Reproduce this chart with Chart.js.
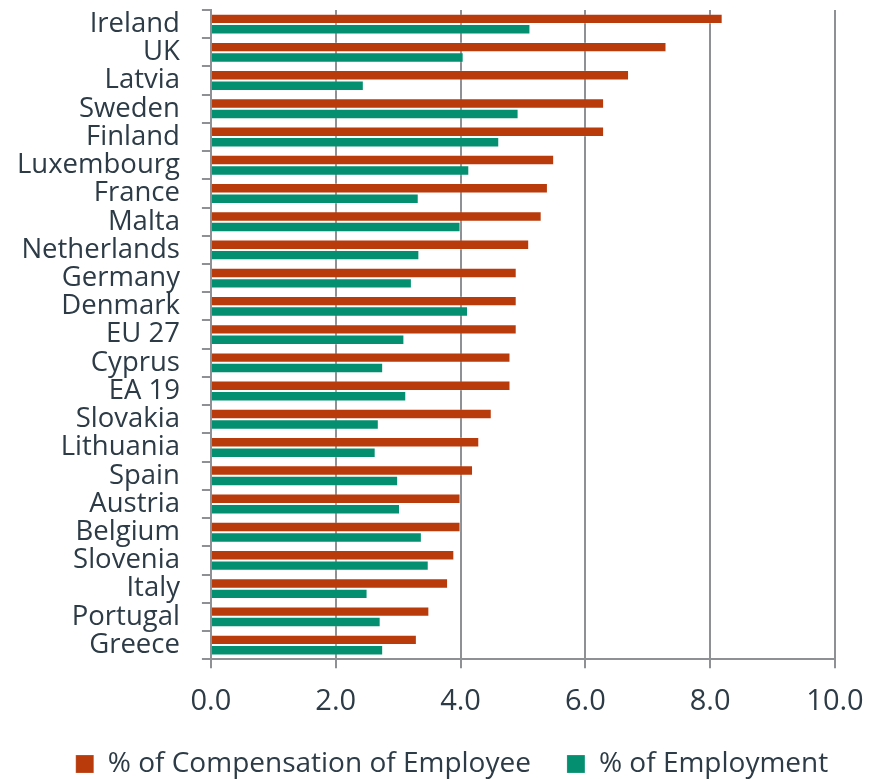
<!DOCTYPE html>
<html>
<head>
<meta charset="utf-8">
<script src="https://cdn.jsdelivr.net/npm/chart.js@4.4.0/dist/chart.umd.min.js"></script>
<style>
	html, body { margin: 0; padding: 0; background: #fff; }
	#wrap { width: 881px; height: 779px; }
</style>
</head>
<body>
<div id="wrap"><canvas id="barChart" width="881" height="779"></canvas></div>
<script>
	// 국가별 비율 (%)
	const countries = ['Ireland', 'UK', 'Latvia', 'Sweden', 'Finland', 'Luxembourg', 'France', 'Malta',
		'Netherlands', 'Germany', 'Denmark', 'EU 27', 'Cyprus', 'EA 19', 'Slovakia', 'Lithuania',
		'Spain', 'Austria', 'Belgium', 'Slovenia', 'Italy', 'Portugal', 'Greece'];
	const compensation = [8.2, 7.3, 6.7, 6.3, 6.3, 5.5, 5.4, 5.3, 5.1, 4.9, 4.9, 4.9, 4.8, 4.8, 4.5, 4.3,
		4.2, 4.0, 4.0, 3.9, 3.8, 3.5, 3.3];
	const employment = [5.12, 4.05, 2.45, 4.93, 4.62, 4.14, 3.33, 4.0, 3.34, 3.22, 4.12, 3.1, 2.76, 3.13,
		2.69, 2.64, 3.0, 3.03, 3.38, 3.49, 2.51, 2.72, 2.76];
	const seriesNames = ['% of Compensation of Employee', '% of Employment'];

	const textColor = '#2c3b46';
	const lineColor = '#8e9093';
	const fontFamily = "'Open Sans', sans-serif";

	// 범례를 오른쪽으로 조금 옮김
	const legendShift = {
		id: 'legendShift',
		afterLayout(chart) {
			if (chart.legend) {
				chart.legend.left += 37;
				chart.legend.right += 37;
			}
		}
	};

	let setChartConfig = () => {
		return {
			type: 'bar',
			data: {
				labels: countries,
				datasets: [{
					label: seriesNames[0],
					data: compensation,
					backgroundColor: '#b93b0b',
					borderColor: 'rgba(255, 255, 255, 0.2)',
					borderWidth: 1,
					categoryPercentage: 0.74,
					barPercentage: 1.0
				}, {
					label: seriesNames[1],
					data: employment,
					backgroundColor: '#038f70',
					borderColor: 'rgba(255, 255, 255, 0.2)',
					borderWidth: 1,
					categoryPercentage: 0.74,
					barPercentage: 1.0
				}]
			},
			plugins: [legendShift],
			options: {
				indexAxis: 'y',
				responsive: false,
				maintainAspectRatio: false,
				animation: { duration: 0 },
				layout: {
					padding: { top: 10, right: 46, bottom: -9, left: -5 }
				},
				plugins: {
					tooltip: { enabled: false },
					legend: {
						position: 'bottom',
						labels: {
							boxWidth: 18,
							boxHeight: 18,
							padding: 36,
							color: textColor,
							font: { family: fontFamily, size: 28 }
						}
					}
				},
				scales: {
					x: {
						min: 0,
						max: 10,
						// 라벨 아래 여백 줄이기
						afterFit: (scale) => {
							scale.height -= 21;
						},
						ticks: {
							stepSize: 2,
							color: textColor,
							padding: 16,
							font: { family: fontFamily, size: 29 },
							callback: (v) => v.toFixed(1)
						},
						grid: {
							color: lineColor,
							lineWidth: 2,
							tickLength: 9
						},
						border: { color: lineColor, width: 2 }
					},
					y: {
						// 라벨 높이만큼 위아래 여백이 생기지 않도록
						afterFit: (scale) => {
							scale.paddingTop = 0;
							scale.paddingBottom = 0;
						},
						ticks: {
							autoSkip: false,
							color: textColor,
							padding: 22,
							font: { family: fontFamily, size: 27.5 }
						},
						grid: {
							drawOnChartArea: false,
							color: lineColor,
							lineWidth: 2,
							tickLength: 9
						},
						border: { color: lineColor, width: 2 }
					}
				}
			}
		};
	};

	new Chart(document.getElementById('barChart'), setChartConfig());
</script>
</body>
</html>
